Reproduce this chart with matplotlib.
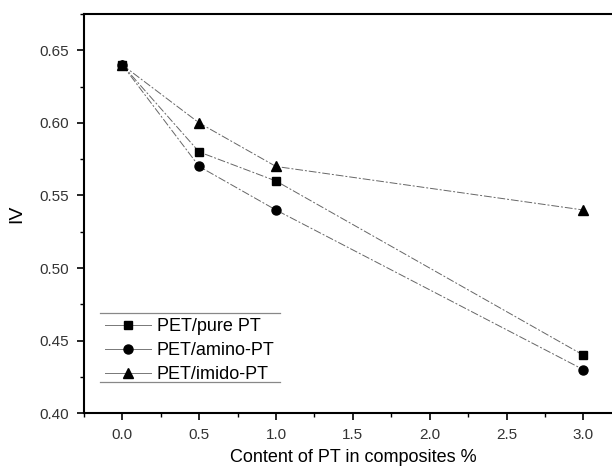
import matplotlib
matplotlib.use("Agg")
import matplotlib.pyplot as plt
from matplotlib.lines import Line2D
from matplotlib.ticker import MultipleLocator

plt.rcParams['font.family'] = ['Liberation Sans', 'DejaVu Sans']

# PT content (%) and intrinsic viscosity for each composite
content = [0.0, 0.5, 1.0, 3.0]
iv_pure = [0.64, 0.58, 0.56, 0.44]
iv_amino = [0.64, 0.57, 0.54, 0.43]
iv_imido = [0.64, 0.60, 0.57, 0.54]

series = [
    ("PET/pure PT", iv_pure, "s", 6),
    ("PET/amino-PT", iv_amino, "o", 6.5),
    ("PET/imido-PT", iv_imido, "^", 7),
]

fig = plt.figure(figsize=(6.12, 4.69), dpi=100)
ax = fig.add_axes([0.137, 0.119, 0.879, 0.851])

for label, vals, mk, size in series:
    ax.plot(content, vals, color="#666666", lw=0.7, ls=(0, (8, 2, 2, 2)),
            marker=mk, ms=size, mfc="black", mec="black", label=label)

ax.set_xlim(-0.25, 3.25)
ax.set_ylim(0.40, 0.675)
ax.xaxis.set_minor_locator(MultipleLocator(0.25))
ax.yaxis.set_minor_locator(MultipleLocator(0.025))
ax.set_xticks([0.0, 0.5, 1.0, 1.5, 2.0, 2.5, 3.0])
ax.set_yticks([0.40, 0.45, 0.50, 0.55, 0.60, 0.65])
ax.set_xticklabels(["0.0", "0.5", "1.0", "1.5", "2.0", "2.5", "3.0"])
ax.set_yticklabels(["0.40", "0.45", "0.50", "0.55", "0.60", "0.65"])

ax.tick_params(which="major", direction="out", length=5, width=1.2,
               labelsize=11, labelcolor="#333333", pad=6)
ax.tick_params(which="minor", direction="out", length=3, width=1.0)
ax.tick_params(top=False, right=False)
for s in ax.spines.values():
    s.set_linewidth(1.5)
ax.spines["right"].set_visible(False)

ax.set_xlabel("Content of PT in composites %", fontsize=13, labelpad=5)
ax.set_ylabel("IV", fontsize=14, labelpad=10)

leg = ax.legend(loc="lower left", bbox_to_anchor=(0.03, 0.061),
                borderaxespad=0, frameon=False, fontsize=13,
                handlelength=2.5, handletextpad=0.35,
                labelspacing=0.4, borderpad=0.3)
for h in leg.legend_handles:
    h.set_linestyle("-")
    h.set_color("#777777")
    h.set_markerfacecolor("black")
    h.set_markeredgecolor("black")

# top and bottom rules around the legend, no side edges
fig.canvas.draw()
bb = leg.get_window_extent().transformed(fig.transFigure.inverted())
lift = 7 / fig.bbox.height
for yy in (bb.y0 + lift, bb.y1):
    fig.add_artist(Line2D([bb.x0, bb.x1], [yy, yy], color="#888888", lw=0.9,
                          transform=fig.transFigure))

fig.savefig("out.png", dpi=100)
